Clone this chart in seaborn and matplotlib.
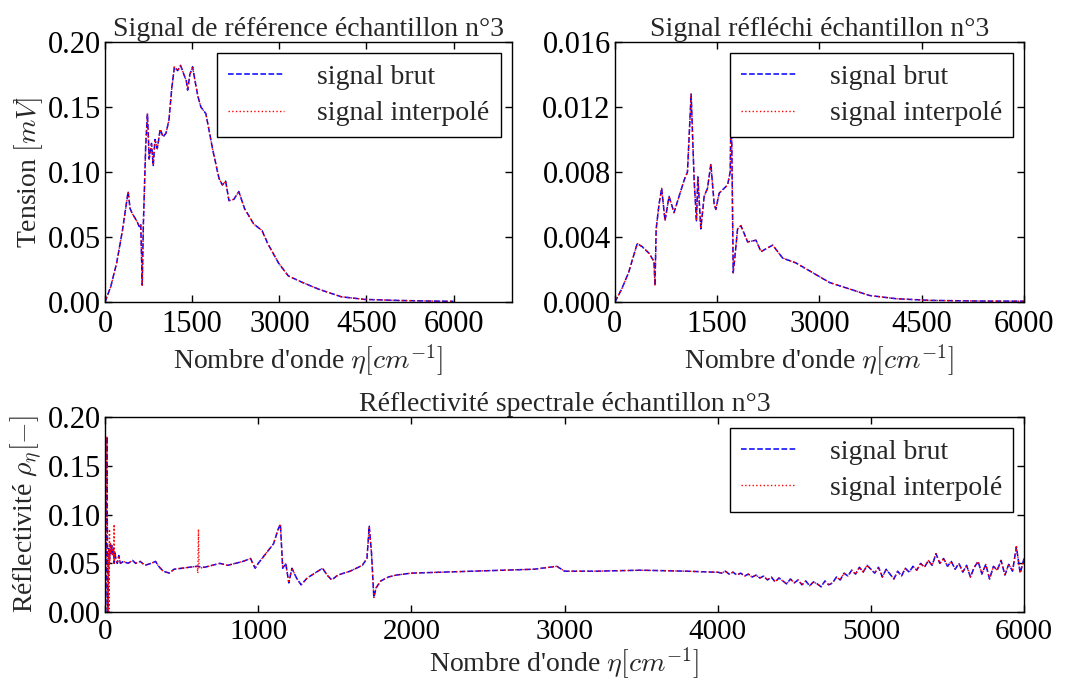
import numpy as np
import pandas as pd
import seaborn as sns
import matplotlib
matplotlib.use("Agg")
import matplotlib.pyplot as plt

# --------------------------------- DATA --------------------------------- #

# reference signal (mV) vs wavenumber
ref_x = [0, 100, 200, 300, 398, 430, 470, 550, 590, 615, 640, 660, 700, 730, 760,
         800, 830, 860, 900, 950, 1000, 1050, 1100, 1150, 1194, 1250, 1300, 1350,
         1400, 1422, 1460, 1507, 1550, 1600, 1650, 1735, 1800, 1850, 1962, 2020,
         2076, 2133, 2218, 2303, 2400, 2559, 2702, 2800, 2986, 3156, 3400, 3668,
         4067, 4465, 5034, 5500, 6000]
ref_y = [0.0, 0.012, 0.03, 0.055, 0.085, 0.072, 0.068, 0.062, 0.058, 0.06, 0.013,
         0.06, 0.12, 0.145, 0.11, 0.122, 0.105, 0.125, 0.118, 0.133, 0.127, 0.13,
         0.14, 0.165, 0.181, 0.178, 0.182, 0.176, 0.17, 0.163, 0.175, 0.181, 0.17,
         0.158, 0.15, 0.145, 0.13, 0.118, 0.095, 0.09, 0.093, 0.078, 0.079, 0.085,
         0.072, 0.06, 0.055, 0.045, 0.03, 0.02, 0.015, 0.01, 0.004, 0.002, 0.0012,
         0.0008, 0.0005]

# reflected signal (mV) vs wavenumber
refl_sig_x = [0, 100, 200, 328, 402, 500, 573, 588, 605, 647, 686, 735, 794, 867,
              941, 1015, 1064, 1118, 1162, 1196, 1216, 1260, 1309, 1358, 1407, 1456,
              1480, 1529, 1652, 1691, 1706, 1735, 1765, 1799, 1848, 1946, 2069, 2142,
              2314, 2461, 2657, 2902, 3147, 3441, 3735, 4127, 4618, 5300, 6000]
refl_sig_y = [0.0, 0.0008, 0.0018, 0.0036, 0.0034, 0.0030, 0.0025, 0.001, 0.0045,
              0.006, 0.007, 0.005, 0.0065, 0.0055, 0.0065, 0.0075, 0.008, 0.0128,
              0.0075, 0.005, 0.0077, 0.0045, 0.0065, 0.007, 0.0085, 0.006, 0.0057,
              0.0067, 0.0072, 0.008, 0.0128, 0.0018, 0.003, 0.0045, 0.0047, 0.0037,
              0.0038, 0.0031, 0.0035, 0.0027, 0.0024, 0.0018, 0.0012, 0.0008,
              0.0004, 0.0002, 0.0001, 0.00006, 0.00005]

# spectral reflectivity, smooth part (0 - 3975)
rho_x = [0, 5, 12, 18, 25, 30, 35, 40, 45, 50, 55, 60, 65, 70, 80, 90, 100, 120,
         150, 180, 200, 230, 260, 300, 330, 350, 380, 420, 450, 500, 550, 600, 650,
         700, 750, 800, 850, 900, 950, 980, 1000, 1050, 1100, 1130, 1145, 1160,
         1180, 1200, 1220, 1250, 1280, 1320, 1370, 1420, 1450, 1480, 1520, 1600,
         1680, 1710, 1725, 1740, 1755, 1770, 1800, 1850, 1900, 2000, 2200, 2400,
         2600, 2800, 2900, 2950, 3000, 3200, 3500, 3800, 3975]
rho_y = [0.0, 0.0, 0.18, 0.0, 0.065, 0.055, 0.07, 0.06, 0.068, 0.058, 0.065, 0.05,
         0.062, 0.055, 0.05, 0.058, 0.05, 0.052, 0.05, 0.053, 0.05, 0.052, 0.048,
         0.05, 0.052, 0.047, 0.042, 0.04, 0.044, 0.045, 0.046, 0.047, 0.046, 0.048,
         0.05, 0.048, 0.05, 0.052, 0.055, 0.045, 0.05, 0.06, 0.07, 0.085, 0.09,
         0.045, 0.05, 0.03, 0.045, 0.035, 0.028, 0.035, 0.04, 0.045, 0.038, 0.033,
         0.038, 0.042, 0.048, 0.055, 0.088, 0.06, 0.015, 0.025, 0.032, 0.036,
         0.038, 0.04, 0.041, 0.042, 0.043, 0.044, 0.046, 0.047, 0.042, 0.042,
         0.043, 0.042, 0.041]

# spectral reflectivity, noisy part (4000 - 6000, every 25 cm-1)
rho_noise = [0.041, 0.040, 0.042, 0.039, 0.041, 0.038, 0.040, 0.037, 0.039, 0.036, 0.038,
             0.035, 0.037, 0.033, 0.036, 0.031, 0.035, 0.032, 0.029, 0.034, 0.030,
             0.033, 0.028, 0.032, 0.027, 0.031, 0.029, 0.026, 0.032, 0.028, 0.030,
             0.036, 0.033, 0.040, 0.037, 0.043, 0.039, 0.046, 0.041, 0.048, 0.044,
             0.040, 0.046, 0.036, 0.044, 0.039, 0.034, 0.042, 0.037, 0.045, 0.041,
             0.047, 0.043, 0.050, 0.046, 0.053, 0.048, 0.060, 0.050, 0.055, 0.047,
             0.052, 0.044, 0.050, 0.041, 0.048, 0.036, 0.046, 0.052, 0.039, 0.049,
             0.034, 0.047, 0.043, 0.053, 0.038, 0.049, 0.042, 0.067, 0.040, 0.055]

# extra excursions seen only on the interpolated reflectivity
spike_x = [27, 29, 31, 57, 59, 61, 606, 610, 614]
spike_y = [0.0, 0.085, 0.05, 0.055, 0.09, 0.05, 0.04, 0.085, 0.045]

labels = ['signal brut', 'signal interpolé']
titles = ['Signal de référence échantillon n°3',
          'Signal réfléchi échantillon n°3',
          'Réflectivité spectrale échantillon n°3']
xlabel = "Nombre d'onde $\\eta[cm^{-1}]$"

# --------------------------------- PLOT --------------------------------- #

sns.set_style("ticks")
plt.rcParams['font.family'] = ['Liberation Serif', 'DejaVu Serif']
plt.rcParams['mathtext.fontset'] = 'cm'
plt.rcParams['xtick.direction'] = 'in'
plt.rcParams['ytick.direction'] = 'in'
plt.rcParams['xtick.top'] = True
plt.rcParams['ytick.right'] = True
plt.rcParams['xtick.major.size'] = 5
plt.rcParams['ytick.major.size'] = 5
plt.rcParams['xtick.major.pad'] = 6
plt.rcParams['ytick.major.pad'] = 3
plt.rcParams['axes.edgecolor'] = 'black'
plt.rcParams['axes.linewidth'] = 1.0
plt.rcParams['xtick.color'] = 'black'
plt.rcParams['ytick.color'] = 'black'

FS = 20


def draw(ax, x, y_brut, x_int, y_int):
    sns.lineplot(x=x, y=y_brut, ax=ax, color='blue', linestyle='--', lw=1.1,
                 label=labels[0], sort=False, estimator=None)
    sns.lineplot(x=x_int, y=y_int, ax=ax, color='red', linestyle=':', lw=1.0,
                 label=labels[1], sort=False, estimator=None)
    leg = ax.legend(loc='upper right', fontsize=FS, fancybox=False,
                    edgecolor='black', framealpha=1, handlelength=2.0,
                    handletextpad=1.2, borderpad=0.4, labelspacing=0.4,
                    borderaxespad=0.4)
    leg.get_frame().set_linewidth(1.0)
    ax.tick_params(labelsize=22, width=1)


fig = plt.figure(figsize=(10.75, 6.84), dpi=100)

ax1 = fig.add_axes([0.0977, 0.5585, 0.3783, 0.380])
draw(ax1, ref_x, ref_y, ref_x, ref_y)
ax1.set_xlim(0, 7000)
ax1.set_ylim(0, 0.2)
ax1.set_xticks([0, 1500, 3000, 4500, 6000])
ax1.set_yticks([0, 0.05, 0.10, 0.15, 0.20])
ax1.set_yticklabels(['0.00', '0.05', '0.10', '0.15', '0.20'])
ax1.set_title(titles[0], fontsize=FS, pad=2)
ax1.set_xlabel(xlabel, fontsize=FS, labelpad=2)
ax1.set_ylabel('Tension $[mV]$', fontsize=FS, labelpad=2)

ax2 = fig.add_axes([0.572, 0.5585, 0.3806, 0.380])
draw(ax2, refl_sig_x, refl_sig_y, refl_sig_x, refl_sig_y)
ax2.set_xlim(0, 6000)
ax2.set_ylim(0, 0.016)
ax2.set_xticks([0, 1500, 3000, 4500, 6000])
ax2.set_yticks([0, 0.004, 0.008, 0.012, 0.016])
ax2.set_yticklabels(['0.000', '0.004', '0.008', '0.012', '0.016'])
ax2.set_title(titles[1], fontsize=FS, pad=2)
ax2.set_xlabel(xlabel, fontsize=FS, labelpad=2)

# full reflectivity series
noise_x = list(range(4000, 6001, 25))
rho_all = pd.DataFrame({'x': rho_x + noise_x, 'y': rho_y + rho_noise})
rho_int = pd.concat([rho_all, pd.DataFrame({'x': spike_x, 'y': spike_y})])
rho_int = rho_int.sort_values('x', kind='stable')

ax3 = fig.add_axes([0.0977, 0.105, 0.8549, 0.2854])
draw(ax3, rho_all['x'], rho_all['y'], rho_int['x'], rho_int['y'])
ax3.set_xlim(0, 6000)
ax3.set_ylim(0, 0.2)
ax3.set_xticks([0, 1000, 2000, 3000, 4000, 5000, 6000])
ax3.set_yticks([0, 0.05, 0.10, 0.15, 0.20])
ax3.set_yticklabels(['0.00', '0.05', '0.10', '0.15', '0.20'])
ax3.tick_params(axis='x', pad=5, labelsize=21)
ax3.set_title(titles[2], fontsize=FS, pad=2)
ax3.set_xlabel(xlabel, fontsize=FS, labelpad=0)
ax3.set_ylabel('Réflectivité $\\rho_\\eta[-]$', fontsize=FS, labelpad=2)

fig.savefig('out.png', dpi=100)
